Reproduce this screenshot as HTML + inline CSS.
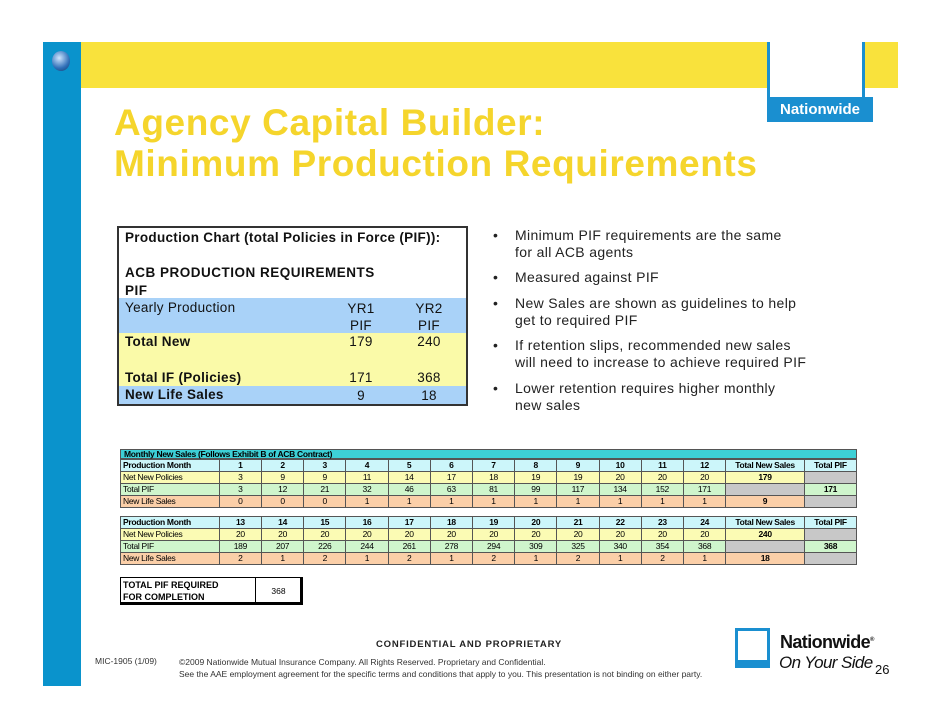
<!DOCTYPE html>
<html><head><meta charset="utf-8"><style>
body{margin:0;width:942px;height:728px;background:#fff;position:relative;overflow:hidden;font-family:"Liberation Sans",sans-serif}
.a{position:absolute}
table{border-collapse:collapse;position:absolute;font-family:"Liberation Sans",sans-serif}
.bt td{border:1px solid #555;font-size:8.5px;height:11px;padding:0 2px;text-align:center;line-height:11px;letter-spacing:-0.3px}
.bt td.l{text-align:left}
.h td{background:#ccf6fa;font-weight:bold}
.y td{background:#fbfbb4}
.g td{background:#cff5cc}
.o td{background:#fbcfa8}
td.gr{background:#c8c8c8!important}
.bl{font-size:14px;color:#222;line-height:17px;letter-spacing:0.35px}
</style></head><body>
<div class="a" style="left:43px;top:42px;width:38px;height:644px;background:#0a93cc"></div>
<div class="a" style="left:52px;top:51px;width:18px;height:20px;border-radius:50%;background:radial-gradient(circle at 40% 35%,#cfe6ff,#2f6fb8 60%,#123a6a)"></div>
<div class="a" style="left:81px;top:42px;width:817px;height:46px;background:#f9e23c"></div>
<div class="a" style="left:767px;top:42px;width:98px;height:56px;background:#fff;border-left:3px solid #1a8fd0;border-right:3px solid #1a8fd0;box-sizing:border-box"></div>
<div class="a" style="left:767px;top:97px;width:106px;height:25px;background:#1a8fd0;color:#fff;font-weight:bold;font-size:15px;line-height:25px;text-align:center">Nationwide</div>
<div class="a" style="left:114px;top:102px;font-size:37px;font-weight:bold;color:#f5d52c;line-height:41px;letter-spacing:0.6px">Agency Capital Builder:<br>Minimum Production Requirements</div>

<div class="a" style="left:117px;top:226px;width:351px;height:180px;border:2px solid #333;box-sizing:border-box;font-size:13.5px;color:#111;letter-spacing:0.3px">
<div class="a" style="left:0;top:0;width:347px;height:70px;background:#fff"></div>
<div class="a" style="left:6px;top:2px;font-weight:bold">Production Chart (total Policies in Force (PIF)):</div>
<div class="a" style="left:6px;top:36px;font-weight:bold;line-height:18px;letter-spacing:0.5px">ACB PRODUCTION REQUIREMENTS<br>PIF</div>
<div class="a" style="left:0;top:70px;width:347px;height:35px;background:#a9d2f8"></div>
<div class="a" style="left:6px;top:72px">Yearly Production</div>
<div class="a" style="left:222px;top:72px;width:40px;text-align:center;line-height:17px">YR1<br>PIF</div>
<div class="a" style="left:290px;top:72px;width:40px;text-align:center;line-height:17px">YR2<br>PIF</div>
<div class="a" style="left:0;top:105px;width:347px;height:53px;background:#fafaa8"></div>
<div class="a" style="left:6px;top:106px;font-weight:bold">Total New</div>
<div class="a" style="left:222px;top:106px;width:40px;text-align:center">179</div>
<div class="a" style="left:290px;top:106px;width:40px;text-align:center">240</div>
<div class="a" style="left:6px;top:142px;font-weight:bold">Total IF (Policies)</div>
<div class="a" style="left:222px;top:142px;width:40px;text-align:center">171</div>
<div class="a" style="left:290px;top:142px;width:40px;text-align:center">368</div>
<div class="a" style="left:0;top:158px;width:347px;height:18px;background:#a9d2f8"></div>
<div class="a" style="left:6px;top:159px;font-weight:bold">New Life Sales</div>
<div class="a" style="left:222px;top:160px;width:40px;text-align:center">9</div>
<div class="a" style="left:290px;top:160px;width:40px;text-align:center">18</div>
</div>

<div class="a bl" style="left:493px;top:227px">•</div><div class="a bl" style="left:515px;top:227px">Minimum PIF requirements are the same<br>for all ACB agents</div>
<div class="a bl" style="left:493px;top:269px">•</div><div class="a bl" style="left:515px;top:269px">Measured against PIF</div>
<div class="a bl" style="left:493px;top:295px">•</div><div class="a bl" style="left:515px;top:295px">New Sales are shown as guidelines to help<br>get to required PIF</div>
<div class="a bl" style="left:493px;top:337px">•</div><div class="a bl" style="left:515px;top:337px">If retention slips, recommended new sales<br>will need to increase to achieve required PIF</div>
<div class="a bl" style="left:493px;top:380px">•</div><div class="a bl" style="left:515px;top:380px">Lower retention requires higher monthly<br>new sales</div>

<div class="a" style="left:120px;top:449px;width:737px;height:10px;background:#3dd0d6;border:1px solid #555;box-sizing:border-box;font-size:8.5px;font-weight:bold;line-height:9px;padding-left:3px;letter-spacing:-0.3px">Monthly New Sales (Follows Exhibit B of ACB Contract)</div>
<table class="bt" style="left:120px;top:459px;width:737px">
<colgroup><col style="width:99px"><col span="12" style="width:42.3px"><col style="width:79px"><col style="width:52px"></colgroup>
<tr class="h"><td class="l">Production Month</td><td>1</td><td>2</td><td>3</td><td>4</td><td>5</td><td>6</td><td>7</td><td>8</td><td>9</td><td>10</td><td>11</td><td>12</td><td>Total New Sales</td><td>Total PIF</td></tr>
<tr class="y"><td class="l">Net New Policies</td><td>3</td><td>9</td><td>9</td><td>11</td><td>14</td><td>17</td><td>18</td><td>19</td><td>19</td><td>20</td><td>20</td><td>20</td><td><b>179</b></td><td class="gr"></td></tr>
<tr class="g"><td class="l">Total PIF</td><td>3</td><td>12</td><td>21</td><td>32</td><td>46</td><td>63</td><td>81</td><td>99</td><td>117</td><td>134</td><td>152</td><td>171</td><td class="gr"></td><td><b>171</b></td></tr>
<tr class="o"><td class="l">New Life Sales</td><td>0</td><td>0</td><td>0</td><td>1</td><td>1</td><td>1</td><td>1</td><td>1</td><td>1</td><td>1</td><td>1</td><td>1</td><td><b>9</b></td><td class="gr"></td></tr>
</table>
<table class="bt" style="left:120px;top:516px;width:737px">
<colgroup><col style="width:99px"><col span="12" style="width:42.3px"><col style="width:79px"><col style="width:52px"></colgroup>
<tr class="h"><td class="l">Production Month</td><td>13</td><td>14</td><td>15</td><td>16</td><td>17</td><td>18</td><td>19</td><td>20</td><td>21</td><td>22</td><td>23</td><td>24</td><td>Total New Sales</td><td>Total PIF</td></tr>
<tr class="y"><td class="l">Net New Policies</td><td>20</td><td>20</td><td>20</td><td>20</td><td>20</td><td>20</td><td>20</td><td>20</td><td>20</td><td>20</td><td>20</td><td>20</td><td><b>240</b></td><td class="gr"></td></tr>
<tr class="g"><td class="l">Total PIF</td><td>189</td><td>207</td><td>226</td><td>244</td><td>261</td><td>278</td><td>294</td><td>309</td><td>325</td><td>340</td><td>354</td><td>368</td><td class="gr"></td><td><b>368</b></td></tr>
<tr class="o"><td class="l">New Life Sales</td><td>2</td><td>1</td><td>2</td><td>1</td><td>2</td><td>1</td><td>2</td><td>1</td><td>2</td><td>1</td><td>2</td><td>1</td><td><b>18</b></td><td class="gr"></td></tr>
</table>
<div class="a" style="left:120px;top:577px;width:183px;height:28px;border:1px solid #000;border-right:3px solid #000;border-bottom:3px solid #000;box-sizing:border-box;font-size:9px;font-weight:bold;line-height:12px">
<div class="a" style="left:2px;top:1px">TOTAL PIF REQUIRED<br>FOR COMPLETION</div>
<div class="a" style="left:134px;top:-1px;width:1px;height:26px;background:#000"></div>
<div class="a" style="left:135px;top:7px;width:45px;text-align:center;font-weight:normal;font-size:8.5px">368</div></div>

<div class="a" style="left:376px;top:639px;font-size:9.5px;font-weight:bold;letter-spacing:0.8px;color:#222">CONFIDENTIAL AND PROPRIETARY</div>
<div class="a" style="left:95px;top:656px;font-size:8.5px;color:#333">MIC-1905 (1/09)</div>
<div class="a" style="left:179px;top:656px;font-size:8.5px;color:#333;line-height:12px">©2009 Nationwide Mutual Insurance Company. All Rights Reserved. Proprietary and Confidential.<br>See the AAE employment agreement for the specific terms and conditions that apply to you. This presentation is not binding on either party.</div>
<div class="a" style="left:735px;top:628px;width:35px;height:40px;border:3px solid #1a8fd0;border-bottom:8px solid #1a8fd0;box-sizing:border-box"></div>
<div class="a" style="left:780px;top:632px;font-size:18px;font-weight:bold;color:#111;letter-spacing:-0.6px">Nationwide<sup style="font-size:6px">®</sup></div>
<div class="a" style="left:779px;top:653px;font-size:17px;font-style:italic;color:#111;letter-spacing:-0.6px">On Your Side</div>
<div class="a" style="left:875px;top:662px;font-size:13px;color:#111">26</div>
</body></html>
